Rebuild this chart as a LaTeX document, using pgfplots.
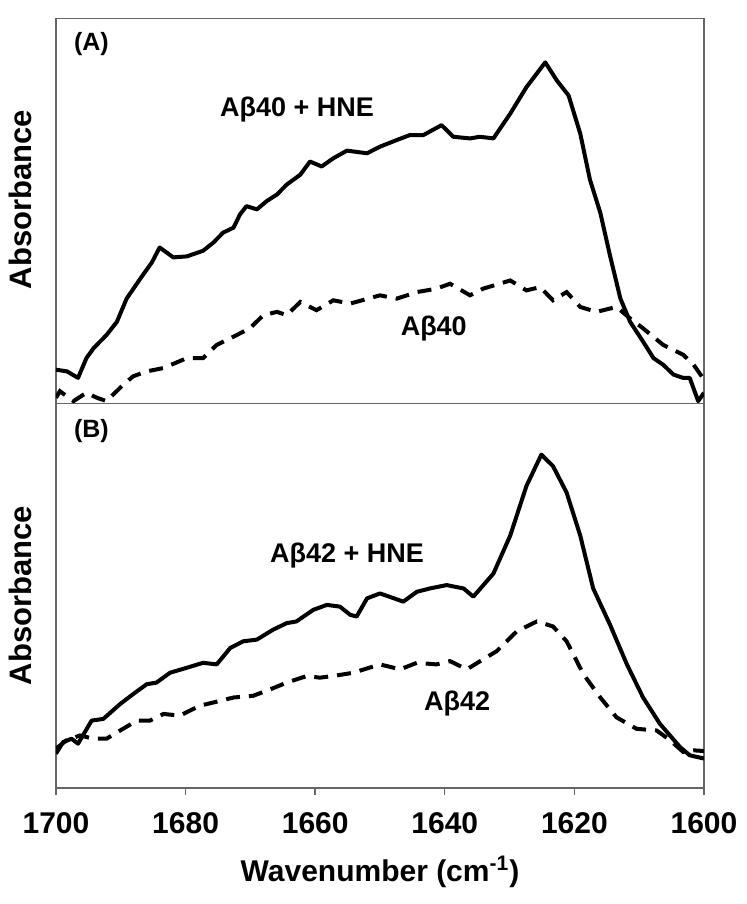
\documentclass[border=0pt]{standalone}
\usepackage{fontspec}
\setmainfont{Liberation Sans}
\usepackage{pgfplots}
\pgfplotsset{compat=1.18}
\tikzset{
  solidc/.style={black, line width=2pt, line join=round},
  dashc/.style={black, line width=2pt, dash pattern=on 7pt off 4.5pt},
  lab/.style={font=\fontsize{13.5}{16}\selectfont\bfseries},
}
\begin{document}
\begin{tikzpicture}
\useasboundingbox (-28pt,-58pt) rectangle (345pt,394pt);
\pgfplotsset{
  panel/.style={
    scale only axis, width=324pt, height=192.3pt,
    x dir=reverse, xmin=1600, xmax=1700, ymin=0, ymax=388,
    ytick=\empty,
    axis line style={draw=black!60, line width=0.7pt},
    ylabel={Absorbance},
    ylabel style={at={(axis description cs:0,0.5)}, anchor=center, rotate=0, yshift=18pt, font=\fontsize{15.5}{18}\selectfont\bfseries},
    clip=true,
  },
}
% Panel B
\begin{axis}[panel, name=pb, at={(0pt,0pt)}, anchor=south west,
  xtick={1600,1620,1640,1660,1680,1700}, xtick pos=bottom, tick align=outside,
  major tick length=3.5pt, tick style={draw=black!60, line width=0.7pt},
  /pgf/number format/assume math mode=true, /pgf/number format/1000 sep={},
  xticklabel style={font=\fontsize{15}{18}\selectfont\bfseries, yshift=-5pt},
  xlabel={Wavenumber (cm\textsuperscript{-1})},
  xlabel style={at={(axis description cs:0.5,0)}, anchor=center, yshift=-42pt, font=\fontsize{15}{18}\selectfont\bfseries}]
\addplot[solidc] coordinates {(1700,34.7) (1698.9,46.3) (1697.6,49.7) (1696.6,44.7) (1694.5,68) (1692.7,69.7) (1690.1,84.7) (1688.1,94.7) (1686.0,104.7) (1684.5,106.3) (1682.4,116.3) (1679.8,121.3) (1677.3,126.3) (1675.2,124.7) (1673.1,141.3) (1671.1,148) (1669.0,149.7) (1666.5,159.7) (1664.4,166.3) (1662.9,168) (1660.3,179.7) (1658.2,184.7) (1656.2,183) (1654.6,174.7) (1653.6,173) (1652.0,191.3) (1650.0,196.3) (1646.4,188) (1644.3,198) (1642.3,201.3) (1639.7,204.7) (1637.1,201.3) (1635.6,193) (1632.5,216.3) (1629.9,254.7) (1627.4,304.7) (1625.1,336.3) (1623.3,324.7) (1621.2,298) (1619.1,254.7) (1617.1,201.3) (1614.5,164.7) (1611.9,124.7) (1609.4,91.3) (1606.8,64.7) (1603.7,41.3) (1602.2,33) (1600,29.7)};
\addplot[dashc] coordinates {(1700,39.7) (1698.4,48) (1696.3,53) (1694.2,49.7) (1692.2,49.7) (1690.1,58) (1687.5,68) (1685.5,68) (1683.4,74.7) (1680.9,73) (1677.8,83) (1675.7,86.3) (1672.6,91.3) (1669.6,93) (1667.5,98) (1664.4,106.3) (1661.3,113) (1659.3,111.3) (1657.2,113) (1654.1,116.3) (1650,124.7) (1646.9,119.7) (1644.3,126.3) (1641.3,124.7) (1639.2,128) (1636.6,119.7) (1634.1,129.7) (1632.0,138) (1628.9,158) (1625.8,168) (1623.3,163) (1621.2,148) (1618.6,114.7) (1616.0,91.3) (1613.5,71.3) (1610.4,59.7) (1607.3,58) (1605.2,48) (1603.2,36.3) (1601.6,38) (1600,37.3)};
\node[anchor=west, font=\fontsize{12.5}{15}\selectfont\bfseries] at (axis cs:1698.3,360) {(B)};
\node[lab] at (axis cs:1655.1,235) {Aβ42 + HNE};
\node[lab] at (axis cs:1638.1,85) {Aβ42};
\end{axis}
% Panel A
\begin{axis}[panel, at={(pb.north west)}, anchor=south west, xtick=\empty,
  ylabel style={at={(axis description cs:0,0.53)}}]
\addplot[solidc] coordinates {(1700,34) (1698.3,32.3) (1696.6,25.7) (1695.3,45.7) (1694.2,55.7) (1692.2,69) (1690.6,82.3) (1689.1,105.7) (1687.0,125.7) (1685.2,142.3) (1684.0,157.3) (1681.9,147.3) (1679.8,148.3) (1677.3,154) (1675.7,162.3) (1674.2,172.3) (1672.6,177.3) (1671.6,190.7) (1670.6,199) (1669.0,195.7) (1667.5,204) (1665.9,210.7) (1664.4,220.7) (1662.3,230.7) (1660.8,244) (1659.0,239) (1657.2,247.3) (1655.1,255) (1652.0,252.3) (1650.0,259) (1647.4,265.7) (1645.4,270.7) (1643.3,270.7) (1640.5,280.7) (1638.7,269) (1636.1,267.3) (1634.6,269) (1632.5,267.3) (1629.9,292.3) (1627.4,319) (1624.5,344) (1622.7,325.7) (1620.9,310.7) (1619.1,272.3) (1617.6,225.7) (1616.0,192.3) (1614.5,149) (1612.9,105.7) (1611.4,82.3) (1609.4,62.3) (1607.8,45.7) (1606.3,39) (1604.7,29) (1603.2,25.7) (1602.2,25.7) (1600.9,2.3) (1600,10.7)};
\addplot[dashc] coordinates {(1700,5.7) (1699.4,12.3) (1697.3,2.3) (1695.3,10.7) (1693.7,5.7) (1692.2,2.3) (1689.6,19) (1688.1,27.3) (1686.0,32.3) (1683.4,35.7) (1679.8,45.7) (1677.3,45.7) (1675.2,59) (1672.6,67.3) (1670.1,75.7) (1668.0,89) (1665.9,92.3) (1664.4,89) (1662.3,102.3) (1659.8,94) (1657.2,104) (1654.6,100.7) (1650.0,109) (1647.4,105.7) (1644.3,112.3) (1641.3,115.7) (1639.2,120.7) (1636.1,109) (1634.1,115.7) (1629.9,124) (1627.4,114) (1625.3,117.3) (1623.3,104) (1621.2,112.3) (1619.1,97.3) (1616.6,92.3) (1613.5,97.3) (1611.4,85.7) (1609.4,75.7) (1606.3,59) (1603.2,49) (1601.6,39) (1600,24)};
\node[anchor=west, font=\fontsize{12.5}{15}\selectfont\bfseries] at (axis cs:1698.3,363) {(A)};
\node[lab] at (axis cs:1662.8,296) {Aβ40 + HNE};
\node[lab] at (axis cs:1641.7,76) {Aβ40};
\end{axis}
\end{tikzpicture}
\end{document}
